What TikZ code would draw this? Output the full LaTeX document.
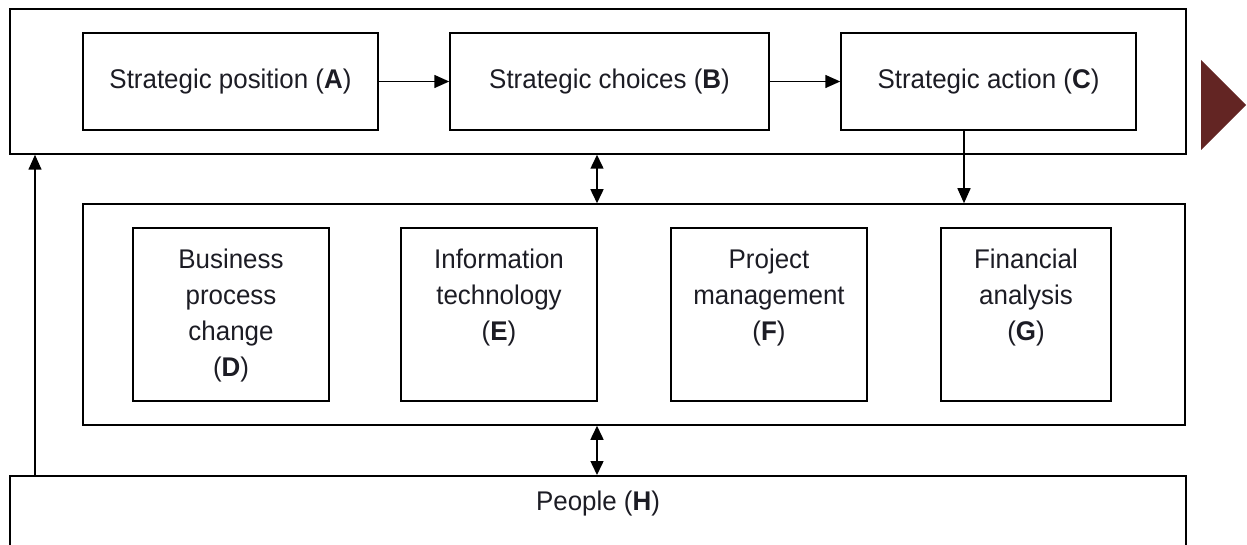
\documentclass[tikz,border=0pt]{standalone}
\usepackage{fontspec}
\setmainfont{Liberation Sans}[FakeStretch=0.96]
\usetikzlibrary{arrows.meta,calc}
\definecolor{txt}{HTML}{1C1C24}
\definecolor{darkred}{HTML}{632523}
\begin{document}
\begin{tikzpicture}[x=1pt,y=-1pt,
  line width=1.5pt,
  every node/.style={font=\fontsize{27}{36}\selectfont, text=txt},
  frame/.style={draw, minimum width=#1, inner sep=0pt},
  stepbox/.style={draw, minimum width=295pt, minimum height=97pt, inner sep=0pt},
  subbox/.style={draw, minimum height=173pt, inner sep=0pt},
  lbl/.style={anchor=north, align=center, inner sep=0pt},
  arr/.style={-{Triangle[length=15pt,width=13pt]}},
  darr/.style={{Triangle[length=14pt,width=13pt]}-{Triangle[length=14pt,width=13pt]}}
]
\useasboundingbox (0,0) rectangle (1247,545);
% outer frames
\node[frame=1176pt, minimum height=145pt] (top) at (598,81.5) {};
\node[frame=1102pt, minimum height=221pt] (mid) at (634,314.5) {};
\node[frame=1176pt, minimum height=100pt, anchor=north] (H) at (598,475) {};
\node (Hl) at (598,504) {People (\textbf{H})};
% strategic boxes
\node[stepbox] (A) at (230.5,81.5) {Strategic position (\textbf{A})};
\node[stepbox, minimum width=319pt] (B) at (609.5,81.5) {Strategic choices (\textbf{B})};
\node[stepbox] (C) at (988.5,81.5) {Strategic action (\textbf{C})};
% sub boxes
\node[subbox, minimum width=196pt] (D) at (231,314.5) {};
\node[subbox, minimum width=196pt] (E) at (499,314.5) {};
\node[subbox, minimum width=196pt] (F) at (769,314.5) {};
\node[subbox, minimum width=170pt] (G) at (1026,314.5) {};
\node[lbl] (Dl) at ($(D.north)+(0,21)$) {Business\\process\\change\\(\textbf{D})};
\node[lbl] (El) at ($(E.north)+(0,21)$) {Information\\technology\\(\textbf{E})};
\node[lbl] (Fl) at ($(F.north)+(0,21)$) {Project\\management\\(\textbf{F})};
\node[lbl] (Gl) at ($(G.north)+(0,21)$) {Financial\\analysis\\(\textbf{G})};
% triangle
\fill[darkred] (1201,60) -- (1246,105) -- (1201,150) -- cycle;
% connectors
\draw[arr] (A) -- (B);
\draw[arr] (B) -- (C);
\draw[arr] (C.south -| 964,0) -- (mid.north -| 964,0);
\draw[darr] (top.south -| 597,0) -- (mid.north -| 597,0);
\draw[darr] (mid.south -| 597,0) -- (H.north -| 597,0);
\draw[arr] (H.north -| 35,0) -- (top.south -| 35,0);
\end{tikzpicture}
\end{document}
